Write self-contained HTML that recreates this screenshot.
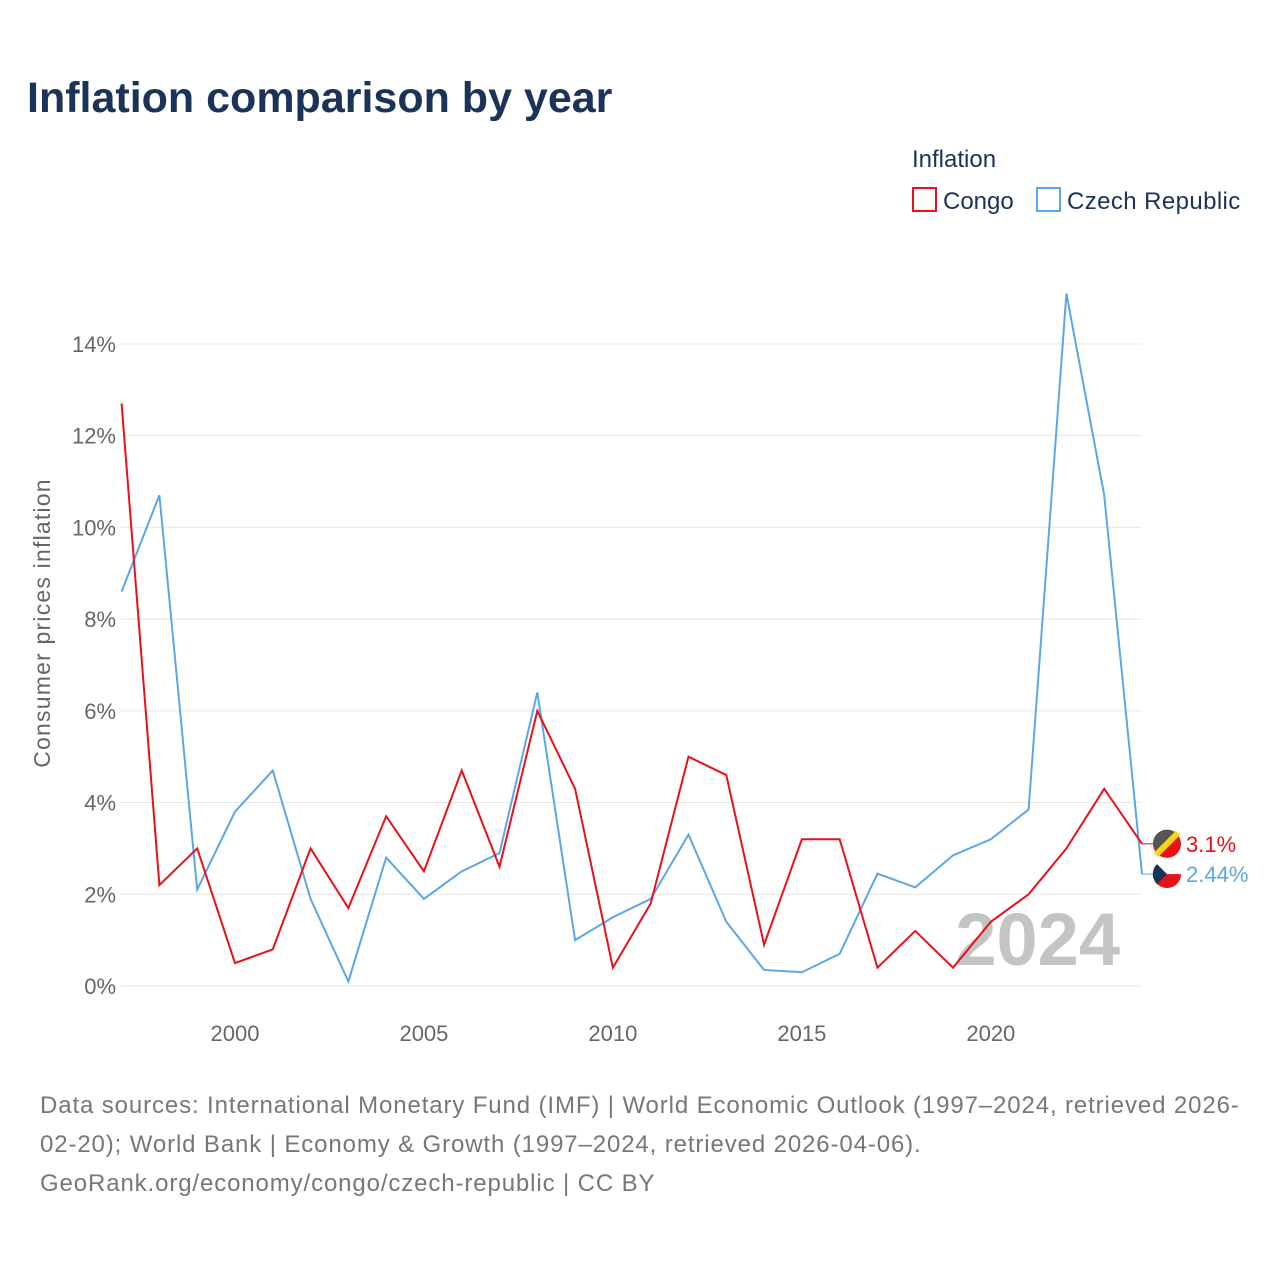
<!DOCTYPE html>
<html><head><meta charset="utf-8"><style>
body{margin:0;background:#fff;font-family:"Liberation Sans",sans-serif;}
</style></head><body>
<svg width="1280" height="1280" xmlns="http://www.w3.org/2000/svg" id="chart">
<rect width="1280" height="1280" fill="#fff"/>
<text x="27" y="112" font-size="43" font-weight="bold" fill="#1b3358">Inflation comparison by year</text>
<text x="912" y="167" font-size="24" fill="#1b3358">Inflation</text>
<g><rect x="913" y="188" width="23" height="23" fill="none" stroke="#e8111a" stroke-width="2"/><text x="943" y="209" font-size="24" fill="#1b3358">Congo</text></g>
<g><rect x="1037" y="188" width="23" height="23" fill="none" stroke="#5aa7e8" stroke-width="2"/><text x="1067" y="209" font-size="24" fill="#1b3358" letter-spacing="0.4">Czech Republic</text></g>
<text transform="translate(50,623) rotate(-90)" text-anchor="middle" font-size="23" fill="#666" letter-spacing="1.2">Consumer prices inflation</text>
<g id="grid"></g><g id="ticks"></g>
<text x="1120" y="965" text-anchor="end" font-size="74" font-weight="bold" fill="#c4c4c4">2024</text>
<g id="series"></g>
<text x="40" y="1113" font-size="24" fill="#777" letter-spacing="0.88">Data sources: International Monetary Fund (IMF) | World Economic Outlook (1997–2024, retrieved 2026-</text>
<text x="40" y="1152" font-size="24" fill="#777" letter-spacing="0.88">02-20); World Bank | Economy &amp; Growth (1997–2024, retrieved 2026-04-06).</text>
<text x="40" y="1191" font-size="24" fill="#777" letter-spacing="0.88">GeoRank.org/economy/congo/czech-republic | CC BY</text>
</svg>
<script>
const years=[1997,1998,1999,2000,2001,2002,2003,2004,2005,2006,2007,2008,2009,2010,2011,2012,2013,2014,2015,2016,2017,2018,2019,2020,2021,2022,2023,2024];
const congo=[12.7,2.2,3.0,0.5,0.8,3.0,1.7,3.7,2.5,4.7,2.6,6.0,4.3,0.4,1.8,5.0,4.6,0.9,3.2,3.2,0.4,1.2,0.4,1.4,2.0,3.0,4.3,3.1];
const czech=[8.6,10.7,2.1,3.8,4.7,1.9,0.1,2.8,1.9,2.5,2.9,6.4,1.0,1.5,1.9,3.3,1.4,0.35,0.3,0.7,2.45,2.15,2.85,3.2,3.85,15.1,10.7,2.44];
const yTicks=[0,2,4,6,8,10,12,14];
const xTicks=[2000,2005,2010,2015,2020];
const NS="http://www.w3.org/2000/svg";
const X=y=>121.6+(y-1997)*(1142-121.6)/27;
const Y=v=>986-v*45.86;
function mk(t,a,p){const e=document.createElementNS(NS,t);for(const k in a)e.setAttribute(k,a[k]);p.appendChild(e);return e;}
const grid=document.getElementById('grid'),ticks=document.getElementById('ticks'),ser=document.getElementById('series');
yTicks.forEach(v=>{
 const l=mk('line',{x1:121,x2:1142,y1:Y(v),y2:Y(v),stroke:'#e6e6e6','stroke-width':1},grid);
 
 
 const t=mk('text',{x:116,y:Y(v)+8,'text-anchor':'end','font-size':22,fill:'#666'},ticks);t.textContent=v+'%';
 
 
});
xTicks.forEach(y=>{
 const t=mk('text',{x:X(y),y:1041,'text-anchor':'middle','font-size':22,fill:'#666'},ticks);t.textContent=y;
 
 
});
function line(vals,col,name){
 const p=mk('polyline',{points:vals.map((v,i)=>X(years[i])+','+Y(v)).join(' '),fill:'none',stroke:col,'stroke-width':2},ser);
 
 
}
line(czech,'#5aa7e8','line-czech-republic');
line(congo,'#e8111a','line-congo');
function endLabel(v,col,ly,txt,name,flag){
 const last=Y(v);
 mk('polyline',{points:`${1142},${last} ${1152},${ly} ${1156},${ly}`,fill:'none',stroke:col,'stroke-width':1},ser);
 const g=mk('g',{},ser);
 
 
 flag(g,1167,ly);
 const t=mk('text',{x:1186,y:ly+8,'font-size':22,fill:col},ser);t.textContent=txt;
 
 
}
endLabel(congo[27],'#e8111a',Y(congo[27]),congo[27]+'%','congo',(g,cx,cy)=>{
 mk('circle',{cx,cy,r:14,fill:'#e8111a'},g);
 mk('path',{d:`M${cx-14},${cy} A14,14 0 0,1 ${cx+10},${cy-10} L${cx-10},${cy+10} Z`,fill:'#555'},g);
 mk('line',{x1:cx-11,y1:cy+11,x2:cx+11,y2:cy-11,stroke:'#f7d618','stroke-width':6},g);
});
endLabel(czech[27],'#5aa7e8',Y(czech[27]),czech[27]+'%','czech',(g,cx,cy)=>{
 mk('circle',{cx,cy,r:14,fill:'#fff'},g);
 mk('path',{d:`M${cx-14},${cy} L${cx+14},${cy} A14,14 0 0,1 ${cx-14},${cy} Z`,fill:'#e8111a'},g);
 mk('path',{d:`M${cx-10},${cy-10} L${cx},${cy} L${cx-10},${cy+10} A14,14 0 0,1 ${cx-10},${cy-10} Z`,fill:'#1b3358'},g);
});
</script>
</body></html>
